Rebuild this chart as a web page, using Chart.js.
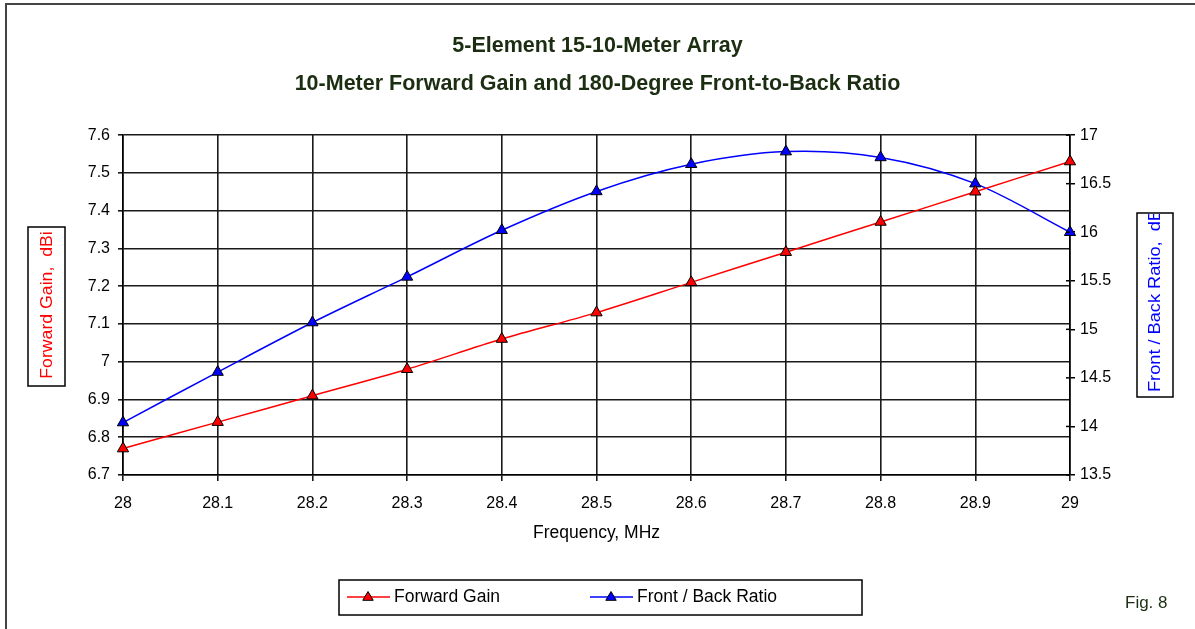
<!DOCTYPE html>
<html>
<head>
<meta charset="utf-8">
<script src="https://cdn.jsdelivr.net/npm/chart.js@4.4.1/dist/chart.umd.min.js"></script>
<style>
  body { margin: 0; background: #fff; }
  #wrap { width: 1195px; height: 629px; }
</style>
</head>
<body>
<div id="wrap"><canvas id="chart" width="1195" height="629"></canvas></div>
<script>
// data
const freqLabels = ['28', '28.1', '28.2', '28.3', '28.4', '28.5', '28.6', '28.7', '28.8', '28.9', '29'];
const forwardGain = [6.77, 6.84, 6.91, 6.98, 7.06, 7.13, 7.21, 7.29, 7.37, 7.45, 7.53];
const frontBack = [14.04, 14.56, 15.07, 15.54, 16.02, 16.42, 16.70, 16.83, 16.77, 16.50, 16.00];

const titleLines = ['5-Element 15-10-Meter Array', '10-Meter Forward Gain and 180-Degree Front-to-Back Ratio'];
const leftTitle = 'Forward Gain,  dBi';
const rightTitle = 'Front / Back Ratio,  dBi';
const xTitle = 'Frequency, MHz';
const figNote = 'Fig. 8';

const FONT = "'Liberation Sans', Arial, sans-serif";
const DARK = '#1c2e12';

Chart.defaults.font.family = FONT;
Chart.defaults.color = '#000';

// excel style labels: 7 not 7.0
const plainNum = v => String(+v.toFixed(2));

function tri(ctx, x, y, color) {
  const r = 5.5;
  ctx.beginPath();
  ctx.moveTo(x, y - r);
  ctx.lineTo(x + r * 0.95, y + r * 0.6);
  ctx.lineTo(x - r * 0.95, y + r * 0.6);
  ctx.closePath();
  ctx.fillStyle = color;
  ctx.fill();
  ctx.lineWidth = 1;
  ctx.strokeStyle = '#000';
  ctx.stroke();
}

const decor = {
  id: 'decor',
  afterDraw(chart) {
    const ctx = chart.ctx;
    ctx.save();
    // outer frame (chart is cropped on the right and bottom)
    ctx.strokeStyle = '#444';
    ctx.lineWidth = 2;
    ctx.beginPath();
    ctx.moveTo(6, 629);
    ctx.lineTo(6, 4);
    ctx.lineTo(1195, 4);
    ctx.stroke();

    // right axis tick marks cross the axis line
    const r = chart.scales.y1;
    ctx.strokeStyle = '#000';
    ctx.lineWidth = 1.5;
    r.ticks.forEach(t => {
      const y = r.getPixelForValue(t.value);
      ctx.beginPath();
      ctx.moveTo(r.left - 4, y);
      ctx.lineTo(r.left, y);
      ctx.stroke();
    });

    // boxed axis titles
    ctx.strokeRect(28, 227, 37, 159);
    ctx.strokeRect(1137, 213, 36, 184);

    ctx.font = '17px ' + FONT;
    ctx.textBaseline = 'middle';
    ctx.save();
    ctx.translate(47, 305);
    ctx.rotate(-Math.PI / 2);
    ctx.scale(1.04, 1);
    ctx.textAlign = 'center';
    ctx.fillStyle = '#ff0000';
    ctx.fillText(leftTitle, 0, 0);
    ctx.restore();

    ctx.save();
    ctx.beginPath();
    ctx.rect(1137, 214, 36, 182);
    ctx.clip();
    ctx.translate(1155, 392);
    ctx.rotate(-Math.PI / 2);
    ctx.scale(1.07, 1);
    ctx.textAlign = 'left';
    ctx.fillStyle = '#0000ff';
    ctx.fillText(rightTitle, 0, 0);
    ctx.restore();

    // legend
    ctx.lineWidth = 1.5;
    ctx.strokeStyle = '#000';
    ctx.strokeRect(339, 580, 523, 35);
    const slots = [347, 590];
    chart.data.datasets.forEach((ds, i) => {
      const x0 = slots[i], y = 597;
      ctx.strokeStyle = ds.borderColor;
      ctx.lineWidth = 1.5;
      ctx.beginPath();
      ctx.moveTo(x0, y);
      ctx.lineTo(x0 + 43, y);
      ctx.stroke();
      tri(ctx, x0 + 21, y, ds.pointBackgroundColor);
      ctx.fillStyle = '#000';
      ctx.textAlign = 'left';
      ctx.font = '17.5px ' + FONT;
      ctx.fillText(ds.label, x0 + 47, y);
    });

    ctx.fillStyle = DARK;
    ctx.font = '17px ' + FONT;
    ctx.textAlign = 'left';
    ctx.fillText(figNote, 1125, 603);
    ctx.restore();
  }
};

new Chart(document.getElementById('chart'), {
  type: 'line',
  data: {
    labels: freqLabels,
    datasets: [{
      label: 'Forward Gain',
      data: forwardGain,
      yAxisID: 'y',
      borderColor: '#ff0000',
      borderWidth: 1.5,
      pointStyle: 'triangle',
      pointRadius: 6.5,
      pointBackgroundColor: '#ff0000',
      pointBorderColor: '#000',
      pointBorderWidth: 1,
      tension: 0.33
    }, {
      label: 'Front / Back Ratio',
      data: frontBack,
      yAxisID: 'y1',
      borderColor: '#0000ff',
      borderWidth: 1.5,
      pointStyle: 'triangle',
      pointRadius: 6.5,
      pointBackgroundColor: '#0000ff',
      pointBorderColor: '#000',
      pointBorderWidth: 1,
      tension: 0.33
    }]
  },
  options: {
    responsive: false,
    animation: false,
    layout: { padding: { left: 0, right: 0, top: 0, bottom: 74 } },
    plugins: {
      legend: { display: false },
      tooltip: { enabled: false },
      title: {
        display: true,
        text: titleLines,
        color: DARK,
        font: { size: 21.5, weight: 'bold', lineHeight: 1.77 },
        padding: { top: 27, bottom: 32 }
      }
    },
    scales: {
      x: {
        type: 'category',
        offset: false,
        grid: { color: '#1a1a1a', lineWidth: 1.6, tickLength: 6 },
        border: { color: '#000', width: 1.6 },
        ticks: { font: { size: 16 }, padding: 13, maxRotation: 0, autoSkip: false },
        title: { display: true, text: xTitle, font: { size: 17.5 }, padding: { top: 0, bottom: 11 } },
        afterFit: s => { s.height = 80; }
      },
      y: {
        position: 'left',
        min: 6.7,
        max: 7.6,
        ticks: { stepSize: 0.1, font: { size: 16 }, padding: 8, callback: plainNum },
        grid: { color: '#1a1a1a', lineWidth: 1.6, tickLength: 5 },
        border: { color: '#000', width: 1.6 },
        afterFit: s => { s.width = 123; }
      },
      y1: {
        position: 'right',
        min: 13.5,
        max: 17,
        ticks: { stepSize: 0.5, font: { size: 16 }, padding: 5, callback: plainNum },
        grid: { drawOnChartArea: false, color: '#000', lineWidth: 1.5, tickLength: 5 },
        border: { color: '#000', width: 1.6 },
        afterFit: s => { s.width = 125; }
      }
    }
  },
  plugins: [decor]
});
</script>
</body>
</html>
